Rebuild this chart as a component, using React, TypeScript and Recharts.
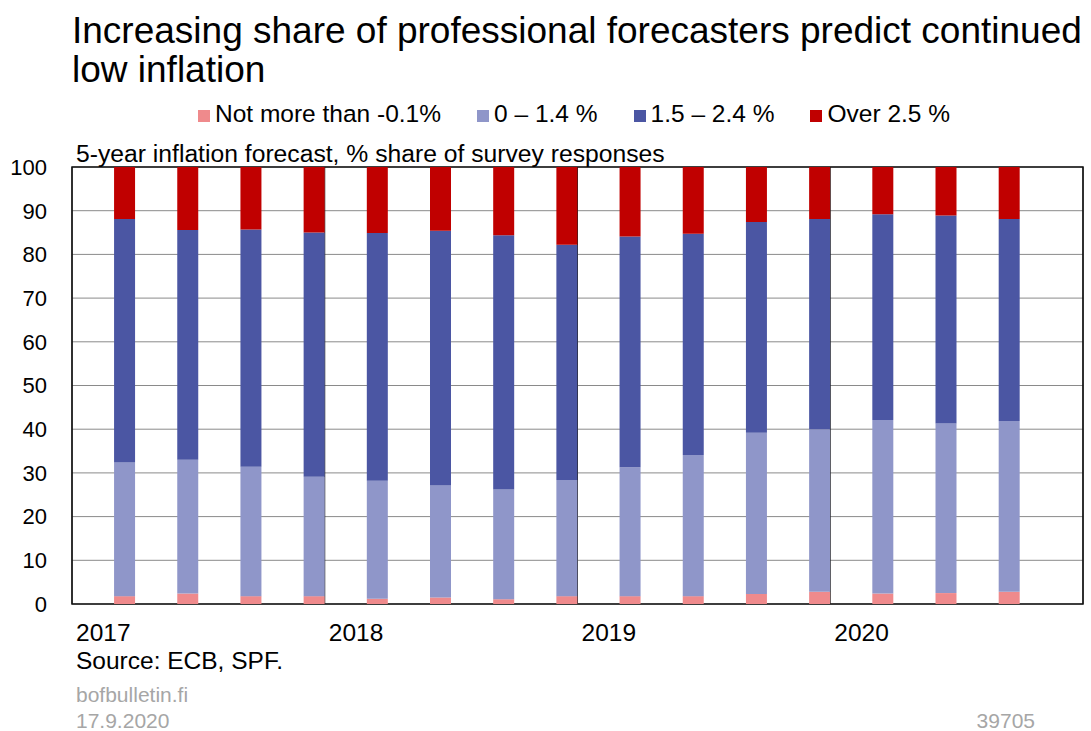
import { BarChart, Bar, XAxis, YAxis, CartesianGrid, ReferenceArea, Legend } from "recharts";

// survey rounds (month of the survey)
const SURVEYS = [
  "2017-03", "2017-06", "2017-09", "2017-12",
  "2018-03", "2018-06", "2018-09", "2018-12",
  "2019-03", "2019-06", "2019-09", "2019-12",
  "2020-03", "2020-06", "2020-09",
];

// % share of responses by 5-year inflation forecast bucket
const NOT_MORE_THAN_NEG = [1.8, 2.4, 1.8, 1.8, 1.2, 1.5, 1.1, 1.8, 1.8, 1.8, 2.3, 2.8, 2.4, 2.5, 2.8];
const ZERO_TO_1_4 = [30.6, 30.6, 29.6, 27.3, 27.0, 25.6, 25.1, 26.6, 29.5, 32.3, 36.9, 37.2, 39.7, 38.8, 39.1];
const FROM_1_5_TO_2_4 = [55.7, 52.6, 54.3, 55.9, 56.7, 58.3, 58.2, 53.8, 52.8, 50.6, 48.2, 48.1, 47.1, 47.6, 46.2];
const OVER_2_5 = [11.9, 14.4, 14.3, 15.0, 15.1, 14.6, 15.6, 17.8, 15.9, 15.3, 12.6, 11.9, 10.8, 11.1, 11.9];

const SERIES_KEYS = ["neg", "low", "mid", "high"];
const YEARS = [2017, 2018, 2019, 2020];
const Y_TICKS = [0, 10, 20, 30, 40, 50, 60, 70, 80, 90, 100];

const FONT = '"Liberation Sans", Arial, Helvetica, sans-serif';

// date axis: each survey sits in the middle of its month
const data = SURVEYS.map((s, i) => {
  const [y, m] = s.split("-").map(Number);
  return {
    t: y + (m - 0.5) / 12,
    neg: NOT_MORE_THAN_NEG[i],
    low: ZERO_TO_1_4[i],
    mid: FROM_1_5_TO_2_4[i],
    high: OVER_2_5[i],
  };
});

function YearTick({ x, y, payload }: any) {
  return (
    <text x={x + 4} y={y + 37} fontSize={24.5} fill="#000" textAnchor="start" fontFamily={FONT}>
      {payload.value}
    </text>
  );
}

function LegendContent({ payload }: any) {
  const items = [...(payload || [])].sort(
    (a: any, b: any) => SERIES_KEYS.indexOf(a.dataKey) - SERIES_KEYS.indexOf(b.dataKey)
  );
  return (
    <div style={{ display: "flex", justifyContent: "center", gap: 36, fontSize: 24.5, lineHeight: "24px", fontFamily: FONT, paddingLeft: 57 }}>
      {items.map((p: any) => (
        <div key={p.value} style={{ display: "flex", alignItems: "center" }}>
          <span style={{ width: 12, height: 12, background: p.color, display: "inline-block", marginRight: 5, marginTop: 4 }} />
          <span>{p.value}</span>
        </div>
      ))}
    </div>
  );
}

export default function App() {
  return (
    <div style={{ position: "absolute", left: 0, top: 0, width: 1091, height: 731, background: "#fff", fontFamily: FONT, color: "#000" }}>
      <BarChart width={1091} height={731} data={data} margin={{ top: 167, right: 8, bottom: 0, left: 0 }}>
        <CartesianGrid vertical={false} stroke="#8a8a8a" />
        <CartesianGrid horizontal={false} stroke="#222" />
        <XAxis
          type="number"
          dataKey="t"
          domain={[2017, 2021]}
          ticks={YEARS}
          tick={<YearTick />}
          axisLine={false}
          tickLine={false}
          tickSize={0}
          tickMargin={0}
          height={127}
        />
        <YAxis
          domain={[0, 100]}
          ticks={Y_TICKS}
          width={72}
          axisLine={false}
          tickLine={false}
          tickSize={0}
          tickMargin={25}
          tick={{ fontSize: 22, fill: "#000", fontFamily: FONT }}
        />
        <Legend
          layout="horizontal"
          verticalAlign="middle"
          align="center"
          content={<LegendContent />}
          wrapperStyle={{ position: "absolute", top: 102, left: 0, width: 1091 }}
        />
        <Bar dataKey="neg" name="Not more than -0.1%" stackId="a" fill="#ef8a8c" barSize={21} isAnimationActive={false} />
        <Bar dataKey="low" name="0 – 1.4 %" stackId="a" fill="#8f96c9" barSize={21} isAnimationActive={false} />
        <Bar dataKey="mid" name="1.5 – 2.4 %" stackId="a" fill="#4b56a3" barSize={21} isAnimationActive={false} />
        <Bar dataKey="high" name="Over 2.5 %" stackId="a" fill="#c00000" barSize={21} isAnimationActive={false} />
        <ReferenceArea x1={2017} x2={2021} y1={0} y2={100} fill="none" stroke="#111" strokeWidth={1.5} ifOverflow="extendDomain" />
      </BarChart>

      <div style={{ position: "absolute", left: 72, top: 11, fontSize: 37, lineHeight: "39px", whiteSpace: "nowrap" }}>
        Increasing share of professional forecasters predict continued
        <br />
        low inflation
      </div>
      <div style={{ position: "absolute", left: 76, top: 142, fontSize: 24.7, lineHeight: "24px", whiteSpace: "nowrap" }}>
        5-year inflation forecast, % share of survey responses
      </div>
      <div style={{ position: "absolute", left: 76, top: 651, fontSize: 24.5, lineHeight: "20px" }}>Source: ECB, SPF.</div>
      <div style={{ position: "absolute", left: 76, top: 684, fontSize: 21, lineHeight: "21px", color: "#a6a6a6" }}>bofbulletin.fi</div>
      <div style={{ position: "absolute", left: 76, top: 710, fontSize: 21, lineHeight: "21px", color: "#a6a6a6" }}>17.9.2020</div>
      <div style={{ position: "absolute", right: 56, top: 710, fontSize: 21, lineHeight: "21px", color: "#a6a6a6" }}>39705</div>
    </div>
  );
}
